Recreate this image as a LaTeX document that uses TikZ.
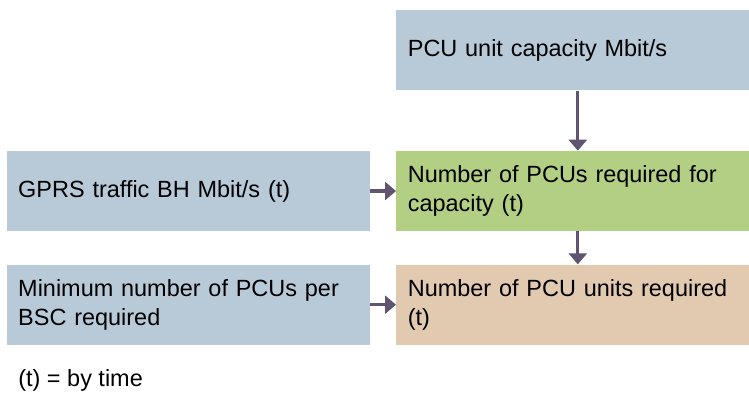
\documentclass[tikz,border=0pt]{standalone}
\usepackage{fontspec}
\setmainfont{Liberation Sans}
\usepackage{tikz}
\usetikzlibrary{arrows.meta,positioning}
\usepackage{xcolor}
\definecolor{inputBlue}{HTML}{B8CAD8}
\definecolor{calcGreen}{HTML}{B3CF83}
\definecolor{resultTan}{HTML}{E2CAB0}
\definecolor{flowGrey}{HTML}{5F5570}
\newcommand{\boxfont}{\fontsize{13.35}{16.4}\selectfont}

\begin{document}
\begin{tikzpicture}[
    x=0.02cm, y=-0.02cm,
    node distance=1.2cm and 0.52cm,
    box/.style={rectangle, minimum height=1.6cm, inner xsep=0.23cm,
                inner ysep=0pt, align=left, font=\boxfont},
    inbox/.style={box, fill=inputBlue, text width=6.8cm},
    outbox/.style={box, text width=6.6cm},
    arrow/.style={-{Triangle[length=0.22cm, width=0.36cm]}, line width=0.066cm,
                  draw=flowGrey},
]
    \useasboundingbox (0,0) rectangle (749,392);
    \node[outbox, fill=inputBlue, anchor=north west] at (396,10)
         (cap) {PCU unit capacity Mbit/s};
    \node[outbox, fill=calcGreen, below=1.2cm of cap]
         (need) {Number of PCUs required for\\capacity (t)};
    \node[outbox, fill=resultTan, below=0.66cm of need]
         (total) {Number of PCU units required\\(t)};
    \node[inbox, left=0.52cm of need] (gprs) {GPRS traffic BH Mbit/s (t)};
    \node[inbox, left=0.52cm of total]
         (minbsc) {Minimum number of PCUs per\\BSC required};
    \node[anchor=west, font=\boxfont, inner sep=0pt] at (18,380)
         (note) {(t) = by time};
    \draw[arrow] ([xshift=0.1cm]cap.south) -- ([xshift=0.1cm]need.north);
    \draw[arrow] ([xshift=0.1cm]need.south) -- ([xshift=0.1cm]total.north);
    \draw[arrow] (gprs) -- (need);
    \draw[arrow] (minbsc) -- (total);
\end{tikzpicture}
\end{document}
